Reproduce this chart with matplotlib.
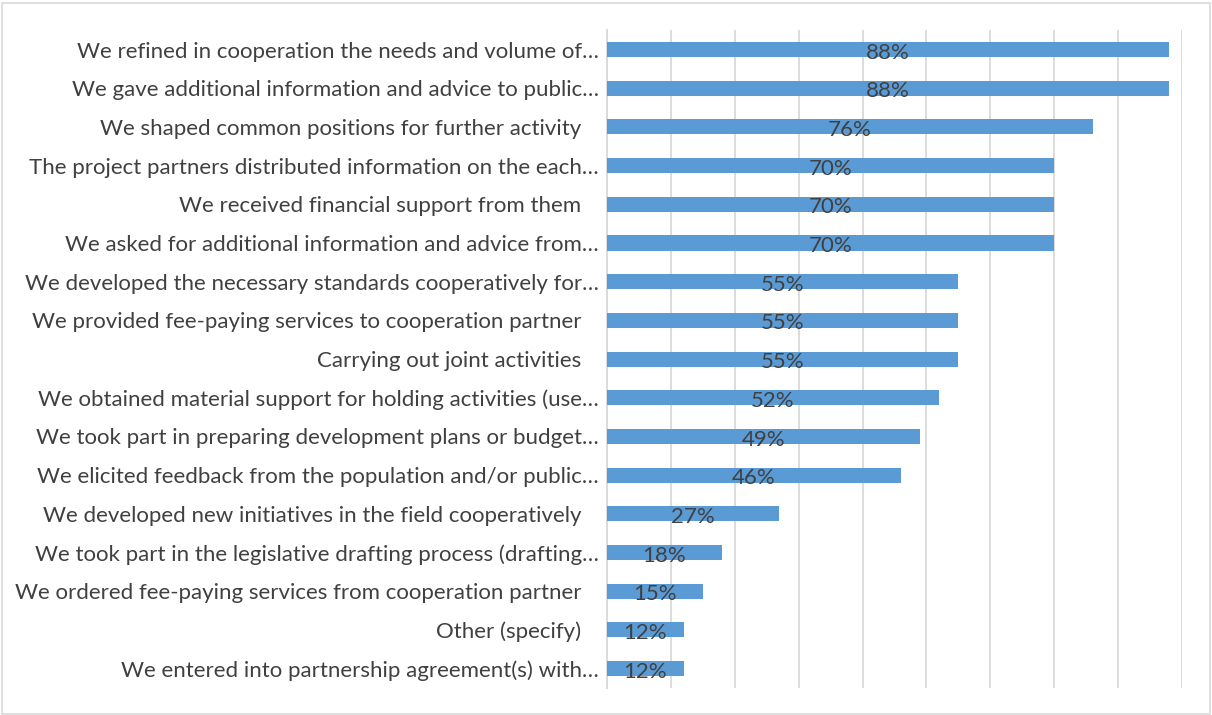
import matplotlib.pyplot as plt
from matplotlib.patches import Rectangle

# Survey answers, top to bottom as shown
activities = [
    "We refined in cooperation the needs and volume of…",
    "We gave additional information and advice to public…",
    "We shaped common positions for further activity   ",
    "The project partners distributed information on the each…",
    "We received financial support from them   ",
    "We asked for additional information and advice from…",
    "We developed the necessary standards cooperatively for…",
    "We provided fee-paying services to cooperation partner   ",
    "Carrying out joint activities   ",
    "We obtained material support for holding activities (use…",
    "We took part in preparing development plans or budget…",
    "We elicited feedback from the population and/or public…",
    "We developed new initiatives in the field cooperatively   ",
    "We took part in the legislative drafting process (drafting…",
    "We ordered fee-paying services from cooperation partner   ",
    "Other (specify)   ",
    "We entered into partnership agreement(s) with…",
]
shares = [88, 88, 76, 70, 70, 70, 55, 55, 55, 52, 49, 46, 27, 18, 15, 12, 12]

plt.rcParams['font.family'] = ['Lato', 'DejaVu Sans']
FS = 16

fig = plt.figure(figsize=(12.12, 7.15), dpi=100)
ax = fig.add_axes([0.5008, 0.0378, 0.4744, 0.920])

pos = list(range(len(activities)))[::-1]
ax.barh(pos, shares, height=0.39, color='#5B9BD5', zorder=3)

for y, v in zip(pos, shares):
    ax.text(v / 2, y - 0.08, f"{v}%", ha='center', va='center',
            fontsize=FS, color='#404040', zorder=4)

ax.set_xlim(0, 90)
ax.set_ylim(-0.5, len(activities) - 0.5)
ax.set_xticks(range(0, 91, 10))
ax.set_xticklabels([])
ax.tick_params(axis='x', length=0)
ax.grid(axis='x', color='#D9D9D9', linewidth=1.3, zorder=0)

ax.set_yticks(pos)
ax.set_yticklabels(activities, fontsize=FS, color='#404040')
ax.tick_params(axis='y', length=0, pad=6)

for side in ['top', 'right', 'bottom']:
    ax.spines[side].set_visible(False)
ax.spines['left'].set_color('#D9D9D9')
ax.spines['left'].set_linewidth(1.3)

# light frame round the whole chart
fig.patches.append(Rectangle((0.002, 0.002), 0.996, 0.994, transform=fig.transFigure,
                             fill=False, edgecolor='#D9D9D9', linewidth=1.2))

plt.savefig('out.png')
